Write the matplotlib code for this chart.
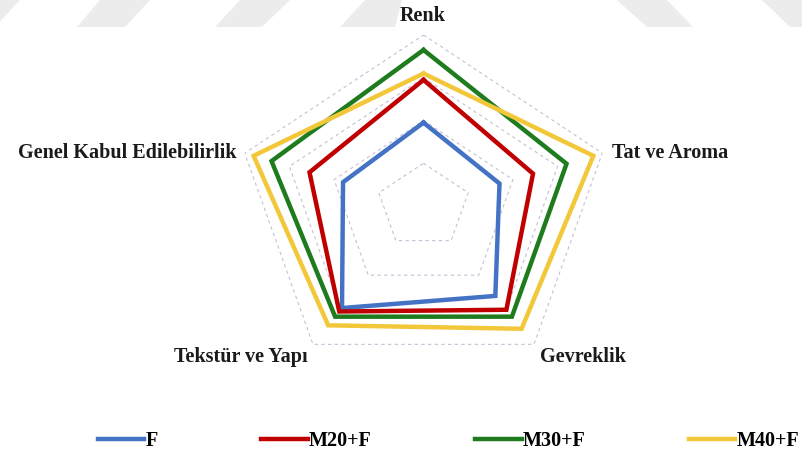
import numpy as np
import matplotlib
matplotlib.use("Agg")
import matplotlib.pyplot as plt
from matplotlib.patches import Polygon

# duyusal degerlendirme puanlari (1-9 skala)
kriterler = ["Renk", "Tat ve Aroma", "Gevreklik", "Tekstür ve Yapı", "Genel Kabul Edilebilirlik"]
F = [4.9, 4.4, 6.2, 6.9, 4.6]
M20F = [6.9, 5.9, 7.0, 7.1, 6.1]
M30F = [8.3, 7.4, 7.4, 7.4, 7.8]
M40F = [7.2, 8.6, 8.1, 7.9, 8.6]
seriler = ["F", "M20+F", "M30+F", "M40+F"]
renkler = ["#4472c4", "#c00000", "#1e7b1e", "#f2c83a"]
halkalar = [3, 5, 7, 9]

W, H = 803, 459
fig = plt.figure(figsize=(W / 100, H / 100), dpi=100)
fig.patch.set_facecolor("white")

# ust kisimdaki gri serit desen
seritler = [
    [(0, 27), (0, 0), (20, 0), (-5, 27)],
    [(77, 27), (100, 0), (150, 0), (125, 27)],
    [(215, 27), (240, 0), (290, 0), (262, 27)],
    [(340, 27), (365, 0), (402, 0), (395, 27)],
    [(617, 0), (667, 0), (693, 27), (647, 27)],
    [(762, 0), (803, 0), (803, 27), (790, 27)],
]
for s in seritler:
    pts = [(x / W, 1 - y / H) for x, y in s]
    fig.patches.append(Polygon(pts, closed=True, transform=fig.transFigure,
                               facecolor="#ececec", edgecolor="none", zorder=0))

cx, cy, rx, ry = 423.5, 206, 188, 171
ax = fig.add_axes([(cx - rx) / W, (H - cy - ry) / H, 2 * rx / W, 2 * ry / H],
                  projection="polar")
ax.set_aspect("auto")
ax.set_theta_offset(np.pi / 2)
ax.set_theta_direction(-1)
ax.set_ylim(1, 9)
ax.set_xticks([])
ax.set_yticks([])
ax.grid(False)
ax.spines["polar"].set_visible(False)
ax.patch.set_alpha(0)

n = len(kriterler)
aci = np.linspace(0, 2 * np.pi, n, endpoint=False)
aci_k = np.append(aci, aci[0])

for h in halkalar:
    ax.plot(aci_k, [h] * (n + 1), color="#c6bfd6", lw=0.8, ls=(0, (3, 3)), zorder=1)

for ad, vals, c in zip(seriler, [F, M20F, M30F, M40F], renkler):
    v = list(vals) + [vals[0]]
    ax.plot(aci_k, v, color=c, lw=3.2, label=ad, zorder=3, solid_joinstyle="miter")

yazi = dict(family="Liberation Serif", weight="bold", fontsize=14.5, color="#1a1a1a")
fig.text(423 / W, 1 - 16 / H, kriterler[0], ha="center", va="center", **yazi)
fig.text(612 / W, 1 - 153 / H, kriterler[1], ha="left", va="center", **yazi)
fig.text(540 / W, 1 - 357 / H, kriterler[2], ha="left", va="center", **yazi)
fig.text(308 / W, 1 - 357 / H, kriterler[3], ha="right", va="center", **yazi)
fig.text(237 / W, 1 - 153 / H, kriterler[4], ha="right", va="center", **yazi)

h_, l_ = ax.get_legend_handles_labels()
fig.legend(h_, l_, loc="center left", bbox_to_anchor=(80 / W, 1 - 441 / H), ncol=4,
           frameon=False, handlelength=2.3, handletextpad=0.05, columnspacing=5.15,
           prop=dict(family="Liberation Serif", weight="bold", size=14.5))

fig.savefig("out.png", dpi=100, facecolor="white")
